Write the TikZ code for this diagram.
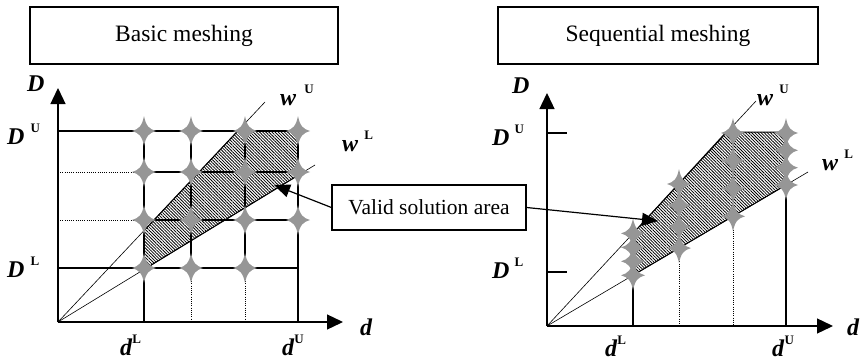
\documentclass[tikz,border=0pt]{standalone}
\usepackage{fontspec}
\setmainfont{Liberation Serif}
\usetikzlibrary{arrows.meta,patterns.meta}
\definecolor{stargray}{RGB}{150,150,150}
\newcommand{\mylab}[3]{\textbf{\textit{#1}}\hspace{#3}\raisebox{0.5em}{\fontsize{13}{13}\selectfont\textbf{#2}}}
\tikzset{
  axisl/.style={line width=1.3pt,-{Triangle[length=16pt,width=15pt]}},
  gridl/.style={line width=1.2pt},
  dotl/.style={line width=0.8pt,dash pattern=on 1pt off 1.2pt},
  wline/.style={line width=0.6pt},
  titlebox/.style={draw,line width=1.2pt,minimum height=57pt,inner sep=0pt,font=\fontsize{23.5}{28}\selectfont},
  callbox/.style={draw,line width=1.2pt,minimum width=194pt,minimum height=45pt,inner sep=0pt,font=\fontsize{21.5}{26}\selectfont},
  lab/.style={anchor=base west,inner sep=0pt,font=\fontsize{24}{28}\selectfont},
  callarrow/.style={line width=1.2pt,-{Triangle[length=16pt,width=13pt]}},
  pics/mstar/.style={code={\fill[stargray] (12,0) .. controls (5,2) and (2,5) .. (0,15) .. controls (-2,5) and (-5,2) .. (-12,0) .. controls (-5,-2) and (-2,-5) .. (0,-15) .. controls (2,-5) and (5,-2) .. (12,0) -- cycle;}}
}
\begin{document}
\begin{tikzpicture}[x=1pt,y=-1pt]
\useasboundingbox (0,0) rectangle (865,361);

% titles
\node[titlebox,minimum width=308pt] (t1) at (184,35.5) {Basic meshing};
\node[titlebox,minimum width=320pt] (t2) at (658,35.5) {Sequential meshing};

%%%%%%%% LEFT PANEL
\coordinate (O1) at (58,322);
\coordinate (Y1) at (58,88);
\coordinate (X1) at (343,322);
\coordinate (WU1) at (265,102);
\coordinate (WL1) at (315,165);

\fill[pattern={Lines[angle=-45,distance=2.2pt,line width=0.8pt]}] (144,230.6) -- (237.7,131) -- (298,131) -- (298,175.4) -- (144,269.5) -- cycle;
\draw[line width=1pt] (144,230.6) -- (237.7,131) -- (298,131) -- (298,175.4) -- (144,269.5);

% grid
\draw[gridl] (58,131) -- (298,131);
\draw[gridl] (58,268) -- (298,268);
\foreach \y in {172,220} {
  \draw[dotl] (58,\y) -- (144,\y);
  \draw[gridl] (144,\y) -- (298,\y);
}
\draw[gridl] (144,131) -- (144,322);
\draw[gridl] (298,131) -- (298,322);
\foreach \x in {191,245} {
  \draw[gridl] (\x,131) -- (\x,268);
  \draw[dotl] (\x,268) -- (\x,322);
}
\draw[wline] (O1) -- (WU1);
\draw[wline] (O1) -- (WL1);
\draw[axisl] (O1) -- (Y1);
\draw[axisl] (O1) -- (X1);

\foreach \x in {144,191,245,298} \foreach \y in {131,172,220} \pic at (\x,\y) {mstar};
\foreach \x in {144,191,245} \pic at (\x,268) {mstar};

\node[lab] (lD1) at (27,92) {\textbf{\textit{D}}};
\node[lab] (lDU1) at (7,144) {\mylab{D}{U}{6pt}};
\node[lab] (lDL1) at (7,277) {\mylab{D}{L}{6pt}};
\node[lab] (ldL1) at (120,355) {\mylab{d}{L}{0pt}};
\node[lab] (ldU1) at (282,355) {\mylab{d}{U}{0pt}};
\node[lab] (ld1) at (360,335) {\textbf{\textit{d}}};
\node[lab] (lwU1) at (280,105) {\mylab{w}{U}{8pt}};
\node[lab] (lwL1) at (342,151) {\mylab{w}{L}{6pt}};

%%%%%%%% RIGHT PANEL
\coordinate (O2) at (547,326);
\coordinate (Y2) at (547,93);
\coordinate (X2) at (833,326);
\coordinate (WU2) at (756,101);
\coordinate (WL2) at (808,172);

\fill[pattern={Lines[angle=-45,distance=2.2pt,line width=0.8pt]}] (633,233.4) -- (726.3,132) -- (786,132) -- (786,185) -- (633,275.3) -- cycle;
\draw[line width=1pt] (633,233.4) -- (726.3,132) -- (786,132) -- (786,185) -- (633,275.3);

\draw[gridl] (547,133) -- (567,133);
\draw[gridl] (547,272) -- (567,272);
\draw[gridl] (633,275.3) -- (633,326);
\draw[gridl] (786,185) -- (786,326);
\draw[dotl] (679,248.1) -- (679,326);
\draw[dotl] (733,216.3) -- (733,326);
\draw[wline] (O2) -- (WU2);
\draw[wline] (O2) -- (WL2);
\draw[axisl] (O2) -- (Y2);
\draw[axisl] (O2) -- (X2);

\foreach \y in {233.4,247.4,261.3,275.3} \pic at (633,\y) {mstar};
\foreach \y in {184,205.4,226.8,248.1} \pic at (679,\y) {mstar};
\foreach \y in {133,160.8,188.5,216.3} \pic at (733,\y) {mstar};
\foreach \y in {133,150.3,167.7,185} \pic at (786,\y) {mstar};

\node[lab] (lD2) at (512,93) {\textbf{\textit{D}}};
\node[lab] (lDU2) at (492,145) {\mylab{D}{U}{5pt}};
\node[lab] (lDL2) at (492,278) {\mylab{D}{L}{5pt}};
\node[lab] (ldL2) at (605,356) {\mylab{d}{L}{0pt}};
\node[lab] (ldU2) at (772,356) {\mylab{d}{U}{0pt}};
\node[lab] (ld2) at (847,335) {\textbf{\textit{d}}};
\node[lab] (lwU2) at (757,105) {\mylab{w}{U}{6pt}};
\node[lab] (lwL2) at (822,170) {\mylab{w}{L}{6pt}};

%%%%%%%% CALLOUT
\node[callbox] (vbox) at (429,207.5) {Valid solution area};
\coordinate (tipL) at (274,185);
\coordinate (tipR) at (658,221);
\draw[callarrow] (vbox.west) -- (tipL);
\draw[callarrow] (vbox.east) -- (tipR);
\end{tikzpicture}
\end{document}
